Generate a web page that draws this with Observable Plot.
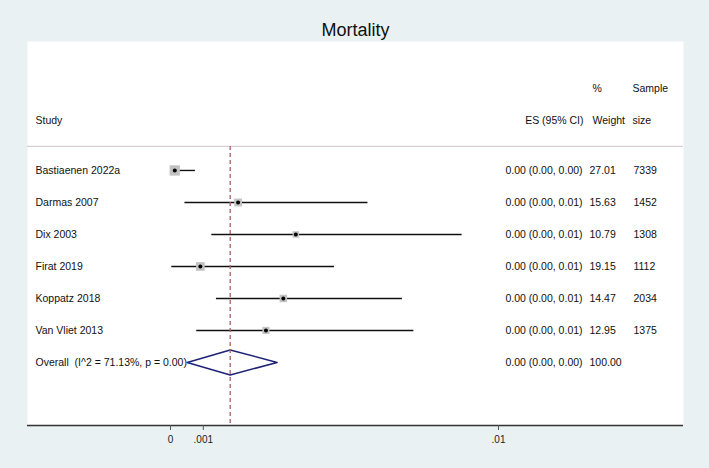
<!DOCTYPE html>
<html>
<head>
<meta charset="utf-8">
<script src="https://cdn.jsdelivr.net/npm/d3@7"></script>
<script src="https://cdn.jsdelivr.net/npm/@observablehq/plot@0.6"></script>
<style>
  html, body { margin: 0; padding: 0; background: #e9f1f3; }
  #chart svg text { white-space: pre; }
</style>
</head>
<body>
<div id="chart"></div>
<script>
// ---- data ----
const title = "Mortality";
const studies = ["Bastiaenen 2022a", "Darmas 2007", "Dix 2003", "Firat 2019", "Koppatz 2018", "Van Vliet 2013"];
const es      = [0.00013, 0.00206, 0.00382, 0.00091, 0.00344, 0.00291];
const ciLow   = [0.00002, 0.00044, 0.00126, 0.00004, 0.00140, 0.00080];
const ciHigh  = [0.00076, 0.00602, 0.00889, 0.00500, 0.00707, 0.00742];
const esText  = ["0.00 (0.00, 0.00)", "0.00 (0.00, 0.01)", "0.00 (0.00, 0.01)", "0.00 (0.00, 0.01)", "0.00 (0.00, 0.01)", "0.00 (0.00, 0.01)"];
const weights = ["27.01", "15.63", "10.79", "19.15", "14.47", "12.95"];
const sampleSizes = ["7339", "1452", "1308", "1112", "2034", "1375"];
const overallLabel = "Overall\u00a0\u00a0(I^2 = 71.13%, p = 0.00)";
const overallES = 0.00182, overallLow = 0.00051, overallHigh = 0.00325;
const overallText = "0.00 (0.00, 0.00)";
const overallWeight = "100.00";
const xTicks = [0, 0.001, 0.01];
const xTickLabels = ["0", ".001", ".01"];

// ---- build tables ----
const rows = studies.map((s, i) => ({
  study: s, row: i + 1, es: es[i], lo: ciLow[i], hi: ciHigh[i],
  esText: esText[i], weight: weights[i], w: +weights[i], n: sampleSizes[i]
}));
const overallRow = studies.length + 1;
const textRows = [...rows, {study: overallLabel, row: overallRow, esText: overallText, weight: overallWeight, n: ""}];
const dh = 0.39;
const diamond = [
  {x: overallLow, y: overallRow}, {x: overallES, y: overallRow - dh},
  {x: overallHigh, y: overallRow}, {x: overallES, y: overallRow + dh},
  {x: overallLow, y: overallRow}
];

const yTop = -3.03, yBottom = 8.97;
const headerLineY = 0.25;
const font = "'Liberation Sans', Arial, Helvetica, sans-serif";

const chart = Plot.plot({
  width: 709,
  height: 468,
  marginLeft: 27,
  marginRight: 26,
  marginTop: 41,
  marginBottom: 43,
  style: {background: "#e9f1f3", fontFamily: font, fontSize: "10.5px", color: "#222"},
  x: {domain: [-0.00436, 0.01564]},
  y: {domain: [yTop, yBottom], reverse: true, axis: null},
  r: {type: "sqrt", domain: [0, 27.01], range: [0, 5.8]},
  marks: [
    Plot.frame({fill: "white", stroke: null}),
    Plot.ruleY([headerLineY], {stroke: "#dccfd2", strokeWidth: 1.2}),
    Plot.ruleY(rows, {y: "row", x1: "lo", x2: "hi", stroke: "#111", strokeWidth: 1.4}),
    Plot.dot(rows, {x: "es", y: "row", r: "w", symbol: "square", fill: "#c2c2c2", stroke: null}),
    Plot.dot(rows, {x: "es", y: "row", r: 2, fill: "#000", stroke: null}),
    Plot.line(diamond, {x: "x", y: "y", stroke: "#1e2378", strokeWidth: 1.5}),
    Plot.ruleX([overallES], {y1: headerLineY, y2: yBottom, stroke: "#a8625f", strokeWidth: 1.3, strokeDasharray: "4,3"}),
    // title
    Plot.text([title], {frameAnchor: "top", lineAnchor: "middle", dy: -11, fontSize: 18, fill: "#111"}),
    // headers
    Plot.text(["Study"], {frameAnchor: "left", y: -0.56, dx: 8, textAnchor: "start", fill: "#111"}),
    Plot.text(["ES (95% CI)"], {frameAnchor: "left", y: -0.56, dx: 556, textAnchor: "end", fill: "#111"}),
    Plot.text(["%"], {frameAnchor: "left", y: -1.56, dx: 565, textAnchor: "start", fill: "#111"}),
    Plot.text(["Weight"], {frameAnchor: "left", y: -0.56, dx: 565, textAnchor: "start", fill: "#111"}),
    Plot.text(["Sample"], {frameAnchor: "left", y: -1.56, dx: 605, textAnchor: "start", fill: "#111"}),
    Plot.text(["size"], {frameAnchor: "left", y: -0.56, dx: 605, textAnchor: "start", fill: "#111"}),
    // columns
    Plot.text(textRows, {frameAnchor: "left", y: "row", text: "study", dx: 8, textAnchor: "start", fill: "#111"}),
    Plot.text(textRows, {frameAnchor: "left", y: "row", text: "esText", dx: 478, textAnchor: "start", fill: "#111"}),
    Plot.text(textRows, {frameAnchor: "left", y: "row", text: "weight", dx: 562, textAnchor: "start", fill: "#111"}),
    Plot.text(textRows, {frameAnchor: "left", y: "row", text: "n", dx: 606, textAnchor: "start", fill: "#111"}),
    // x axis
    Plot.ruleY([yBottom], {stroke: "#333", strokeWidth: 1.6}),
    Plot.axisX(xTicks, {tickSize: 5, tickPadding: 5, tickFormat: (d) => xTickLabels[xTicks.indexOf(d)], fontSize: 10, stroke: "#555", fill: "#222"})
  ]
});
document.getElementById("chart").appendChild(chart);
</script>
</body>
</html>
